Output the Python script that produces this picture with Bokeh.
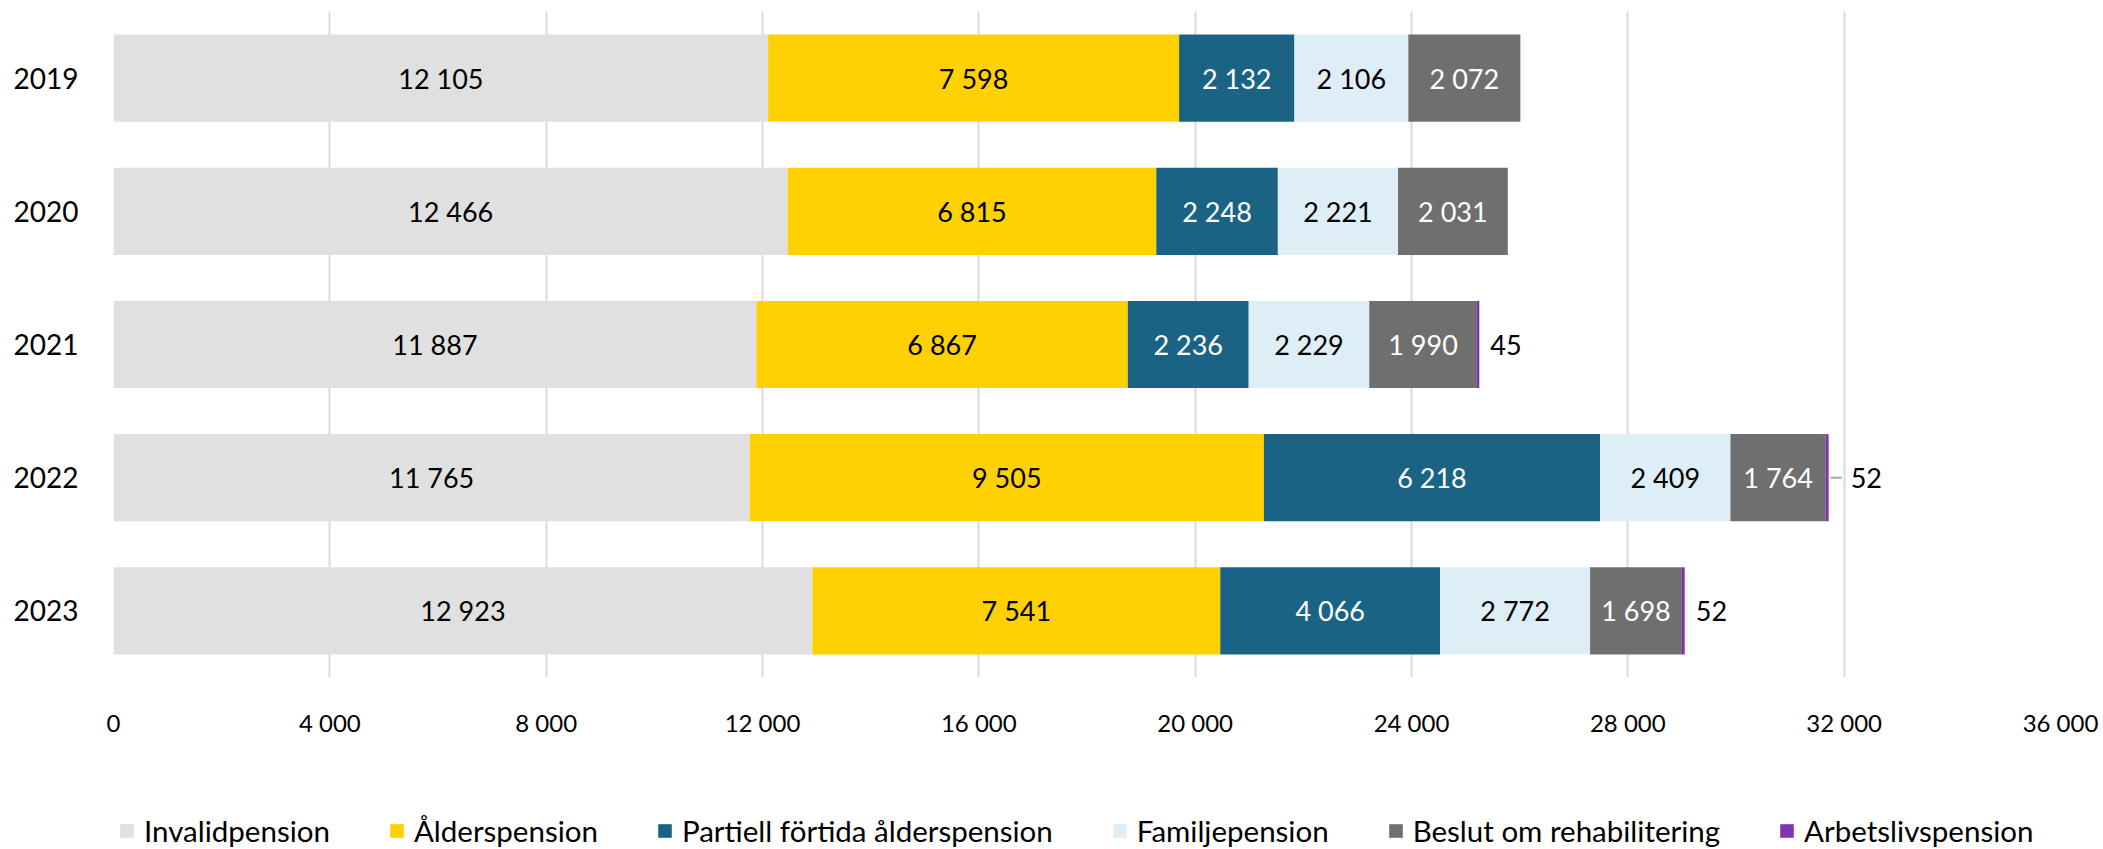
from bokeh.plotting import figure
from bokeh.layouts import column
from bokeh.models import (ColumnDataSource, FactorRange, Range1d, Legend, LegendItem,
                          FixedTicker, CustomJSTickFormatter)
from bokeh.core.properties import value
from bokeh.embed import file_html
from bokeh.resources import INLINE

# ---------------- data ----------------
years = ["2019", "2020", "2021", "2022", "2023"]
series = ["Invalidpension", "Ålderspension", "Partiell förtida ålderspension",
          "Familjepension", "Beslut om rehabilitering", "Arbetslivspension"]
invalid = [12105, 12466, 11887, 11765, 12923]
alder = [7598, 6815, 6867, 9505, 7541]
partiell = [2132, 2248, 2236, 6218, 4066]
familj = [2106, 2221, 2229, 2409, 2772]
beslut = [2072, 2031, 1990, 1764, 1698]
arbetsliv = [0, 0, 45, 52, 52]
x_ticks = [0, 4000, 8000, 12000, 16000, 20000, 24000, 28000, 32000, 36000]

# ---------------- style ----------------
colors = ["#E0E0E0", "#FFD100", "#1B6384", "#DEEEF7", "#6F6F6F", "#7F35B2"]
label_colors = ["black", "black", "white", "black", "white", "black"]
leader = [False, False, False, True, False]
FONT = "Lato"

W = 2103
H1, H2 = 760, 89
ML, MR, MT = 113, 43, 11
FRAME_H = 666
MB = H1 - MT - FRAME_H
frame_w = W - ML - MR
XMAX = 36000
px = XMAX / frame_w

keys = ["s%d" % i for i in range(len(series))]
vals = [invalid, alder, partiell, familj, beslut, arbetsliv]
data = {"year": years}
for k, v in zip(keys, vals):
    data[k] = v
src = ColumnDataSource(data)

p = figure(y_range=FactorRange(*reversed(years)), x_range=Range1d(0, XMAX),
           width=W, height=H1, output_backend="svg", toolbar_location=None,
           min_border_left=ML, min_border_right=MR, min_border_top=MT,
           min_border_bottom=MB)
p.outline_line_color = None

renderers = p.hbar_stack(keys, y="year", height=0.655, color=colors, source=src,
                         line_color=None)

# data labels inside segments
lx, ly, lt, lc = [], [], [], []
for j, yr in enumerate(years):
    cum = 0
    for i in range(len(series) - 1):
        v = vals[i][j]
        lx.append(cum + v / 2)
        ly.append(yr)
        lt.append(f"{v:,}".replace(",", " "))
        lc.append(label_colors[i])
        cum += v
p.text(x=lx, y=ly, text=lt, text_color=lc, text_align="center", text_baseline="middle",
       text_font=value(FONT), text_font_size="27px")

# Arbetslivspension labels outside
ox, oy, ot, ooff = [], [], [], []
sx0, sx1, sy = [], [], []
for j, yr in enumerate(years):
    v = arbetsliv[j]
    if v <= 0:
        continue
    total = sum(vals[i][j] for i in range(len(series)))
    ox.append(total)
    oy.append(yr)
    ot.append(f"{v:,}".replace(",", " "))
    ooff.append(22 if leader[j] else 11)
    if leader[j]:
        sx0.append(total + 2 * px)
        sx1.append(total + 13 * px)
        sy.append(yr)
p.text(x=ox, y=oy, text=ot, x_offset=ooff, text_color="black", text_align="left",
       text_baseline="middle", text_font=value(FONT), text_font_size="27px")
if sx0:
    p.segment(x0=sx0, x1=sx1, y0=sy, y1=sy, line_color="#A6A6A6", line_width=2)

# axes
p.xaxis.ticker = FixedTicker(ticks=x_ticks)
p.xaxis.formatter = CustomJSTickFormatter(
    code="return tick.toString().replace(/\\B(?=(\\d{3})+(?!\\d))/g, ' ');")
p.xaxis.axis_line_color = None
p.xaxis.major_tick_line_color = None
p.xaxis.minor_tick_line_color = None
p.xaxis.major_label_text_font = FONT
p.xaxis.major_label_text_font_size = "24px"
p.xaxis.major_label_text_color = "black"
p.xaxis.major_label_standoff = 24

p.yaxis.axis_line_color = None
p.yaxis.major_tick_line_color = None
p.yaxis.minor_tick_line_color = None
p.yaxis.major_label_text_font = FONT
p.yaxis.major_label_text_font_size = "28px"
p.yaxis.major_label_text_color = "black"
p.yaxis.major_label_standoff = 29

p.xgrid.grid_line_color = "#D9D9D9"
p.xgrid.grid_line_width = 2
p.ygrid.grid_line_color = None

# legend figure: swatches come from glyphs in the series colours (kept outside the view)
p2 = figure(width=W, height=H2, output_backend="svg", toolbar_location=None,
            x_axis_type=None, y_axis_type=None, min_border=0,
            x_range=Range1d(10, 11), y_range=Range1d(10, 11))
p2.outline_line_color = None
p2.grid.visible = False
leg_renderers = [p2.hbar(y=[0], left=[0], right=[1], height=0.5, color=c, line_color=None)
                 for c in colors]
legend = Legend(items=[LegendItem(label=s, renderers=[r]) for s, r in zip(series, leg_renderers)],
                orientation="horizontal", location=(5, 1),
                glyph_width=17, glyph_height=17, label_standoff=9, spacing=58,
                padding=0, margin=0, border_line_color=None, background_fill_alpha=0,
                label_text_font=FONT, label_text_font_size="29.5px", label_text_color="black",
                label_height=30)
p2.add_layout(legend, "center")

open("out.html", "w").write(file_html(column(p, p2, spacing=0), INLINE))
